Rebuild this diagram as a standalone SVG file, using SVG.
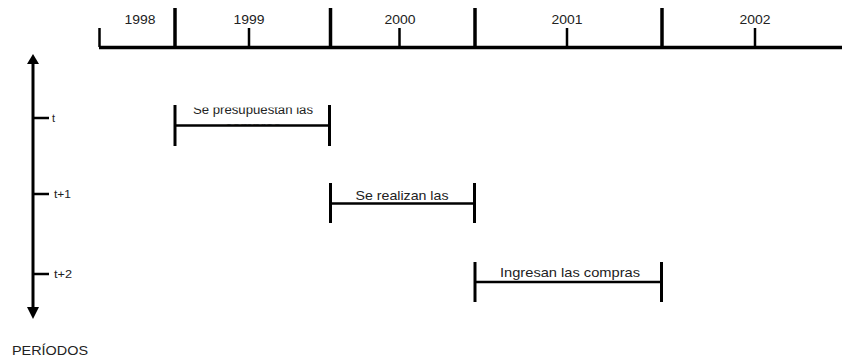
<svg xmlns="http://www.w3.org/2000/svg" width="842" height="358" viewBox="0 0 842 358">
<style>
text{font-family:"Liberation Sans",Arial,sans-serif;fill:#222}
.yr{font-size:12.5px;text-anchor:middle}
.per{font-size:11px}
.lbl{font-size:13px;text-anchor:middle}
.ax{stroke:#000;fill:none}
</style>
<defs>
<clipPath id="c1"><rect x="176" y="107.5" width="153" height="17"/></clipPath>
</defs>
<rect width="842" height="358" fill="#fff"/>
<g id="timeline">
<line class="ax" x1="99" y1="47.5" x2="842" y2="47.5" stroke-width="3.5"/>
<line class="ax" x1="99.5" y1="28" x2="99.5" y2="47" stroke-width="2.5"/>
<line class="ax" x1="175" y1="8" x2="175" y2="47" stroke-width="3.5"/>
<line class="ax" x1="330.5" y1="8" x2="330.5" y2="47" stroke-width="3.5"/>
<line class="ax" x1="475" y1="8" x2="475" y2="47" stroke-width="3.5"/>
<line class="ax" x1="662" y1="8" x2="662" y2="47" stroke-width="3.5"/>
<line class="ax" x1="249" y1="28" x2="249" y2="47" stroke-width="2.5"/>
<line class="ax" x1="399.5" y1="28" x2="399.5" y2="47" stroke-width="2.5"/>
<line class="ax" x1="567" y1="28" x2="567" y2="47" stroke-width="2.5"/>
<line class="ax" x1="755" y1="28" x2="755" y2="47" stroke-width="2.5"/>
<text class="yr" x="140" y="24" textLength="31" lengthAdjust="spacingAndGlyphs">1998</text>
<text class="yr" x="249" y="24" textLength="31" lengthAdjust="spacingAndGlyphs">1999</text>
<text class="yr" x="400" y="24" textLength="31" lengthAdjust="spacingAndGlyphs">2000</text>
<text class="yr" x="567" y="24" textLength="31" lengthAdjust="spacingAndGlyphs">2001</text>
<text class="yr" x="755" y="24" textLength="31" lengthAdjust="spacingAndGlyphs">2002</text>
</g>
<g id="periods">
<line class="ax" x1="33" y1="62" x2="33" y2="308" stroke-width="3"/>
<polygon points="33,54 27,64 39,64" fill="#000"/>
<polygon points="33,319 27,307 39,307" fill="#000"/>
<line class="ax" x1="33" y1="118" x2="49" y2="118" stroke-width="2.5"/>
<line class="ax" x1="33" y1="194" x2="49" y2="194" stroke-width="2.5"/>
<line class="ax" x1="33" y1="274" x2="49" y2="274" stroke-width="2.5"/>
<text class="per" x="52" y="122">t</text>
<text class="per" x="54" y="198" textLength="17" lengthAdjust="spacingAndGlyphs">t+1</text>
<text class="per" x="54" y="278" textLength="18" lengthAdjust="spacingAndGlyphs">t+2</text>
<text x="12" y="355" font-size="13.5" textLength="76" lengthAdjust="spacingAndGlyphs">PERÍODOS</text>
</g>
<g id="span1">
<line class="ax" x1="175" y1="105" x2="175" y2="146" stroke-width="3"/>
<line class="ax" x1="329.5" y1="105" x2="329.5" y2="146" stroke-width="3"/>
<g clip-path="url(#c1)">
<text class="lbl" x="253" y="113.8" textLength="120" lengthAdjust="spacingAndGlyphs">Se presupuestan las</text>
<text class="lbl" x="253" y="130.5" textLength="56" lengthAdjust="spacingAndGlyphs">compras</text>
</g>
<line class="ax" x1="175" y1="125.5" x2="329.5" y2="125.5" stroke-width="2.5"/>
</g>
<g id="span2">
<line class="ax" x1="330.5" y1="183" x2="330.5" y2="223" stroke-width="3"/>
<line class="ax" x1="474.5" y1="183" x2="474.5" y2="223" stroke-width="3"/>
<line class="ax" x1="330.5" y1="203.5" x2="474.5" y2="203.5" stroke-width="2.5"/>
<text class="lbl" x="402" y="200" textLength="93" lengthAdjust="spacingAndGlyphs">Se realizan las</text>
</g>
<g id="span3">
<line class="ax" x1="475" y1="262" x2="475" y2="302" stroke-width="3"/>
<line class="ax" x1="661.5" y1="262" x2="661.5" y2="302" stroke-width="3"/>
<line class="ax" x1="475" y1="282" x2="661.5" y2="282" stroke-width="2.5"/>
<text class="lbl" x="570" y="277" textLength="140" lengthAdjust="spacingAndGlyphs">Ingresan las compras</text>
</g>
</svg>
